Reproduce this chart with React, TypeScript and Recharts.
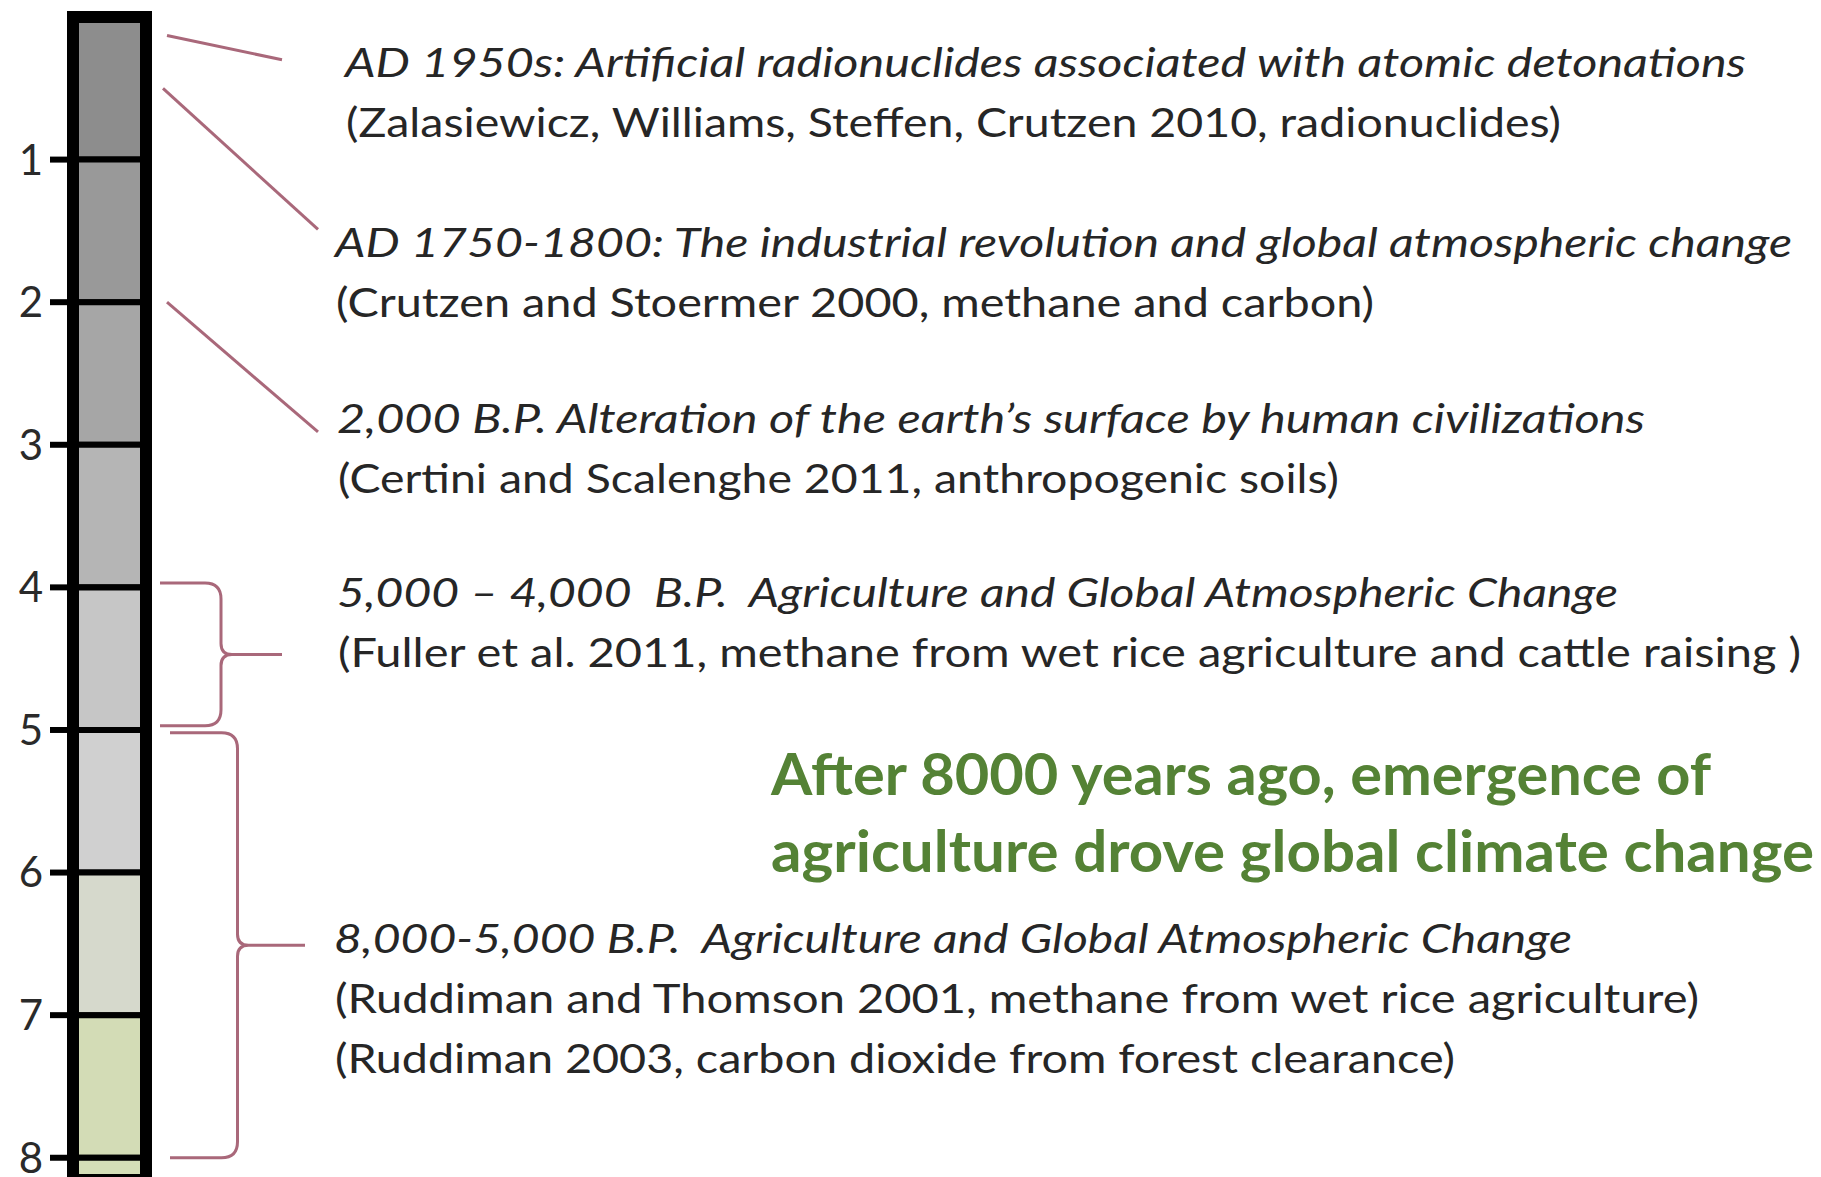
import React from "react"
import { ComposedChart, Bar, Line, XAxis, YAxis, ReferenceArea } from "recharts"

// ages in thousands of years before present
const ageTicks = [1, 2, 3, 4, 5, 6, 7, 8]
const bandSpans = [1, 1, 1, 1, 1, 1, 1, 1, 0.3]
const bandColors = ["#8d8d8d", "#999999", "#a6a6a6", "#b5b5b5", "#c6c6c6", "#d0d0d0", "#d6d9cc", "#d3dcb6", "#d5deb8"]

const noteTitles = [
  "AD 1950s: Artificial radionuclides associated with atomic detonations",
  "AD 1750-1800: The industrial revolution and global atmospheric change",
  "2,000 B.P. Alteration of the earth\u2019s surface by human civilizations",
  "5,000 \u2013 4,000  B.P.  Agriculture and Global Atmospheric Change",
  "8,000-5,000 B.P.  Agriculture and Global Atmospheric Change",
]
const noteSources = [
  ["(Zalasiewicz, Williams, Steffen, Crutzen 2010, radionuclides)"],
  ["(Crutzen and Stoermer 2000, methane and carbon)"],
  ["(Certini and Scalenghe 2011, anthropogenic soils)"],
  ["(Fuller et al. 2011, methane from wet rice agriculture and cattle raising )"],
  ["(Ruddiman and Thomson 2001, methane from wet rice agriculture)", "(Ruddiman 2003, carbon dioxide from forest clearance)"],
]
const headline = ["After 8000 years ago, emergence of", "agriculture drove global climate change"]

// leader lines: age where they leave the column, age where they reach the note
const leaderAges = [[0.13, 0.3], [0.5, 1.49], [2.0, 2.91]]
// braces: age span they cover
const braceAges = [[3.97, 4.97], [5.02, 8.0]]

// layout
const W = 1821
const H = 1177
const AXIS_W = 73
const COL_RIGHT = 146
const noteX = [345, 335, 337, 337, 334]
const noteBaseline = [77, 257, 433, 607, 953]
const LINE_GAP = 60
const titleLen = [1401, 1457, 1308, 1281, 1238]
const sourceLen = [[1215], [1038], [1001], [1463], [1364, 1120]]
const leaderX = [[167, 282], [163, 318], [167, 318]]
const braceX = [[160, 282], [170, 305]]
const LINK = "#a9687a"
const INK = "#262626"
const GREEN = "#548235"

const row: Record<string, string | number> = { name: "column" }
bandSpans.forEach((v, i) => {
  row[`band${i}`] = v
})
const chartData = [row]

const leaderData = leaderAges.map(([a, b], i) => [
  { nx: leaderX[i][0], age: a },
  { nx: leaderX[i][1], age: b },
])

function Brace(props: any) {
  const { x, y, width, height } = props
  const xs = x + width / 2
  const xt = x + width
  const ym = y + height / 2
  const yb = y + height
  const r = 16
  const t = 11
  const d = [
    `M${x},${y}`,
    `L${xs - r},${y}`,
    `Q${xs},${y} ${xs},${y + r}`,
    `L${xs},${ym - t}`,
    `Q${xs},${ym} ${xs + t},${ym}`,
    `L${xt},${ym}`,
    `M${xs + t},${ym}`,
    `Q${xs},${ym} ${xs},${ym + t}`,
    `L${xs},${yb - r}`,
    `Q${xs},${yb} ${xs - r},${yb}`,
    `L${x},${yb}`,
  ].join(" ")
  return <path d={d} fill="none" stroke={LINK} strokeWidth={3} strokeLinejoin="round" />
}

export default function App() {
  return (
    <div style={{ position: "relative", width: W, height: H, background: "#fff" }}>
      <style>{"body{margin:0;background:#fff}"}</style>
      <ComposedChart
        width={W}
        height={H}
        data={chartData}
        margin={{ top: 17, right: 0, bottom: 0, left: 0 }}
        barCategoryGap={0}
      >
        <XAxis xAxisId="col" dataKey="name" type="category" hide padding={{ left: 0, right: W - COL_RIGHT }} />
        <XAxis xAxisId="note" dataKey="nx" type="number" domain={[AXIS_W, W]} allowDataOverflow hide />
        <YAxis
          type="number"
          domain={[0, 8.135]}
          reversed
          allowDataOverflow
          ticks={ageTicks}
          interval={0}
          width={AXIS_W}
          tickSize={23}
          tickMargin={7}
          axisLine={false}
          tickLine={{ stroke: "#000", strokeWidth: 6 }}
          tick={{ fontSize: 42, fill: "#2a2a2a", fontFamily: "Lato" }}
        />
        {bandSpans.map((_, i) => (
          <Bar
            key={i}
            xAxisId="col"
            dataKey={`band${i}`}
            stackId="col"
            fill={bandColors[i]}
            stroke="#000"
            strokeWidth={6}
            isAnimationActive={false}
          />
        ))}
        <ReferenceArea
          xAxisId="col"
          x1="column"
          x2="column"
          y1={0}
          y2={8.4}
          ifOverflow="visible"
          fill="none"
          fillOpacity={0}
          stroke="#000"
          strokeWidth={12}
          zIndex={350}
        />
        {leaderData.map((d, i) => (
          <Line
            key={`l${i}`}
            xAxisId="note"
            data={d}
            dataKey="age"
            type="linear"
            stroke={LINK}
            strokeWidth={3}
            dot={false}
            activeDot={false}
            isAnimationActive={false}
          />
        ))}
        {braceAges.map(([a, b], i) => (
          <ReferenceArea
            key={`b${i}`}
            xAxisId="note"
            x1={braceX[i][0]}
            x2={braceX[i][1]}
            y1={a}
            y2={b}
            ifOverflow="visible"
            shape={(p: any) => <Brace {...p} />}
          />
        ))}
      </ComposedChart>
      <svg width={W} height={H} style={{ position: "absolute", left: 0, top: 0, pointerEvents: "none" }}>
        {noteTitles.map((t, i) => (
          <g key={i} fontFamily="Lato" fontSize={40} fill={INK}>
            <text
              x={noteX[i]}
              y={noteBaseline[i]}
              fontStyle="italic"
              textLength={titleLen[i]}
              lengthAdjust="spacingAndGlyphs"
              style={{ whiteSpace: "pre" }}
            >
              {t}
            </text>
            {noteSources[i].map((s, j) => (
              <text
                key={j}
                x={noteX[i] + 1}
                y={noteBaseline[i] + LINE_GAP * (j + 1)}
                textLength={sourceLen[i][j]}
                lengthAdjust="spacingAndGlyphs"
              >
                {s}
              </text>
            ))}
          </g>
        ))}
        {headline.map((t, i) => (
          <text
            key={`h${i}`}
            x={771}
            y={795 + i * 77}
            fontFamily="Lato"
            fontWeight="bold"
            fontSize={58}
            fill={GREEN}
            textLength={i === 0 ? 940 : 1043}
            lengthAdjust="spacingAndGlyphs"
          >
            {t}
          </text>
        ))}
      </svg>
    </div>
  )
}
